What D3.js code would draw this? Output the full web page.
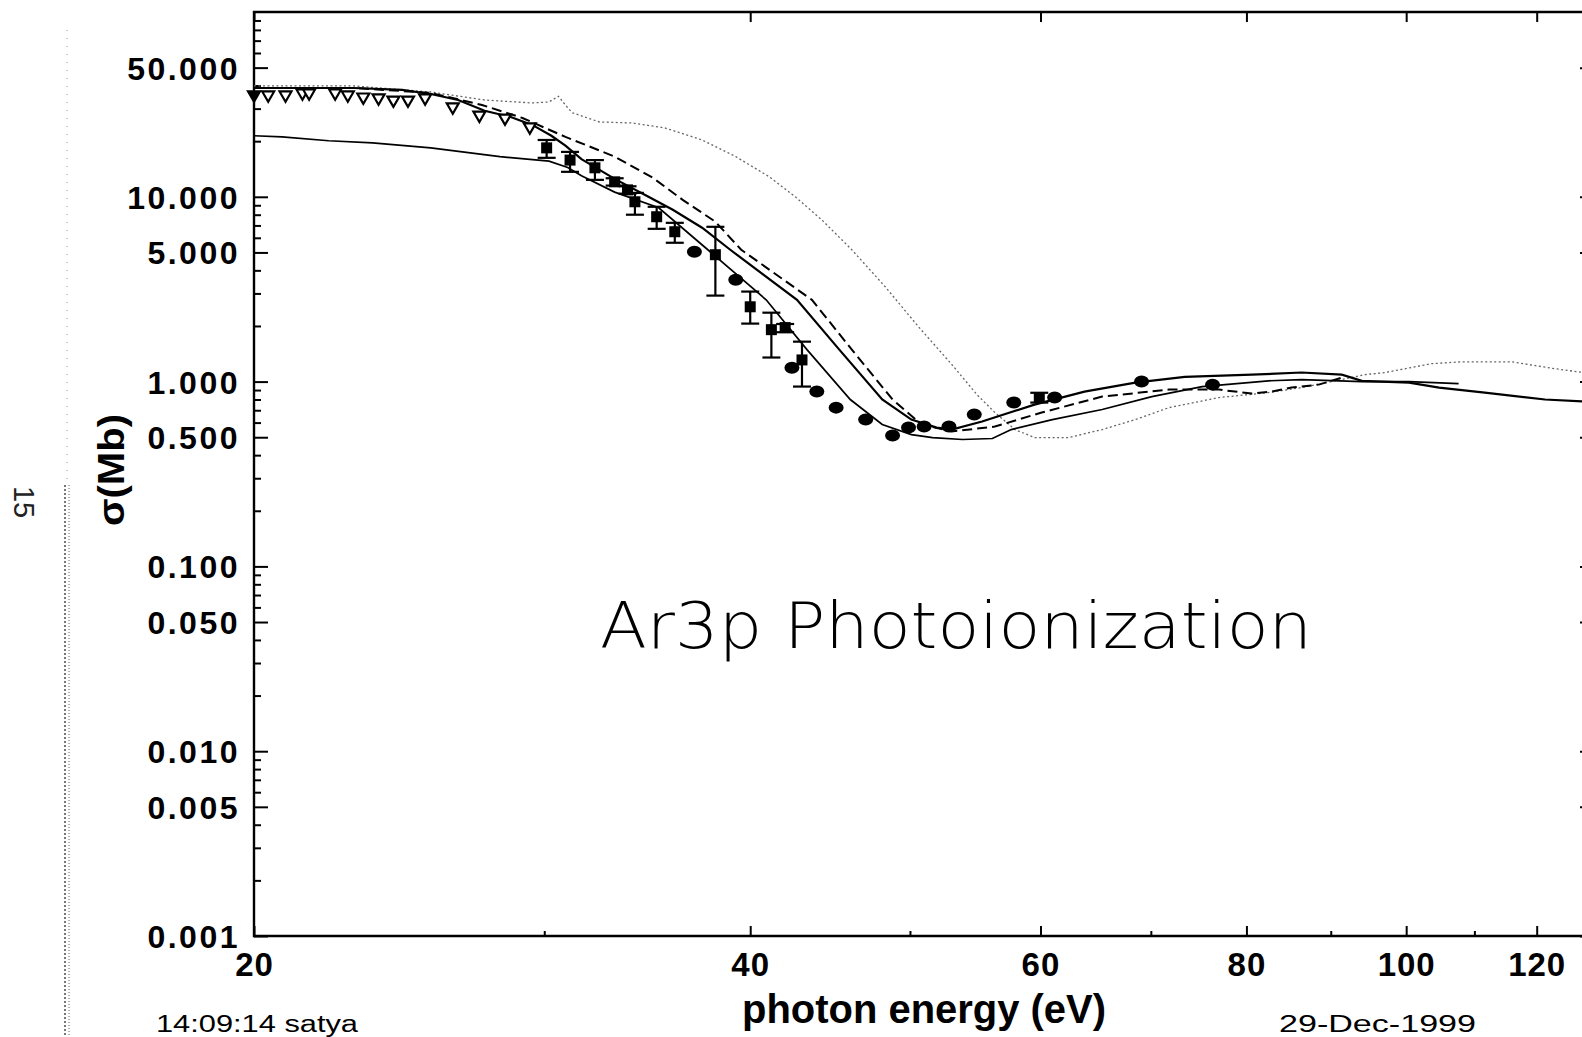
<!DOCTYPE html>
<html><head><meta charset="utf-8">
<script src="https://cdn.jsdelivr.net/npm/d3@7"></script>
<style>html,body{margin:0;padding:0;background:#fff;overflow:hidden}</style>
</head><body>
<svg id="chart" width="1582" height="1037" xmlns="http://www.w3.org/2000/svg"></svg>
<script>
// ---------------- data (photon energy in eV, cross section in Mb) ----------------
const yMajorTicks = [50, 10, 5, 1, 0.5, 0.1, 0.05, 0.01, 0.005, 0.001];
const yTickLabels = ["50.000","10.000","5.000","1.000","0.500","0.100","0.050","0.010","0.005","0.001"];
const xMajorTicks = [20, 40, 60, 80, 100, 120];
const xTickLabels = ["20","40","60","80","100","120"];
const xMinorTicks = [30, 50, 70, 90, 110];

// open triangles (measurements)
const triE     = [20.0,20.4,20.9,21.4,21.6,22.4,22.8,23.3,23.8,24.3,24.8,25.4,26.4,27.4,28.4,29.4];
const triSigma = [35.6,35.6,35.6,36.5,36.5,36.5,35.6,34.7,34.3,33.4,33.4,34.3,30.7,27.7,26.7,23.9];

// filled squares with error bars
const sqE     = [30.1,31.1,32.2,33.1,33.7,34.05,35.1,36.0,38.1,40.0,41.2,42.0,43.0,59.9];
const sqSigma = [18.4,15.8,14.35,12.05,10.9,9.4,7.8,6.47,4.86,2.54,1.91,1.96,1.31,0.82];
const sqLo    = [16.25,13.65,12.35,11.5,10.4,8.0,6.71,5.64,2.92,2.06,1.35,1.85,0.94,0.77];
const sqHi    = [20.3,17.5,15.8,12.6,11.4,10.5,8.83,7.23,6.88,3.07,2.36,2.05,1.645,0.87];

// filled circles
const cirE     = [37.0,39.2,42.4,43.9,45.1,47.0,48.8,49.9,51.0,52.8,54.7,57.8,61.2,69.1,76.3];
const cirSigma = [5.04,3.56,1.19,0.883,0.723,0.623,0.511,0.564,0.571,0.571,0.663,0.770,0.82,1.0,0.963];

// theory curves  [E, sigma]
const curveA = [[20.0,21.4],[20.8,21.1],[22.2,20.1],[23.6,19.6],[25.6,18.4],[28.2,16.5],[30.2,15.6],[31.0,14.4],[31.6,13.0],[33.1,10.6],[35.2,8.72],[37.7,5.17],[40.9,2.77],[43.3,1.49],[46.0,0.80],[48.1,0.586],[50.1,0.517],[51.6,0.498],[53.8,0.486],[56.1,0.492],[57.6,0.55],[61.0,0.623],[65.4,0.706],[70.1,0.83],[75.2,0.94],[82.5,1.01],[86.4,1.025],[94.0,1.0],[100.4,1.0],[107.6,0.975]];
const curveB = [[20,38.8],[23,38.8],[24.6,37.9],[25.6,36.0],[26.6,33.4],[27.6,29.2],[28.6,27.1],[29.5,24.5],[30.3,21.4],[30.9,18.9],[31.6,16.0],[33.1,12.5],[34.7,10.0],[35.9,8.51],[37.4,6.8],[38.9,5.17],[42.7,2.77],[45.3,1.49],[48.1,0.80],[50.1,0.623],[51.9,0.564],[53.0,0.55],[55.3,0.608],[59.5,0.751],[63.8,0.883],[68.5,0.988],[73.4,1.06],[80.6,1.09],[86.4,1.12],[91.4,1.09],[94.0,1.01],[100.4,0.988],[104.7,0.928],[111.6,0.872],[121.4,0.80],[130,0.775]];
const curveC = [[20,38.8],[23,38.8],[25.6,36.5],[27.5,31.4],[29.1,26.7],[30.9,21.1],[33.1,16.5],[34.9,12.7],[36.4,9.63],[38.1,7.33],[39.5,5.17],[43.6,2.77],[46.1,1.49],[48.8,0.80],[50.8,0.586],[53.0,0.537],[56.3,0.571],[60.1,0.68],[65.4,0.83],[71.8,0.905],[77.0,0.905],[80.6,0.861],[82.9,0.883],[85.2,0.928],[88.5,0.963],[91.4,1.05]];
const curveD = [[20,39.8],[23,39.8],[25.6,36.9],[27.6,33.4],[29.5,32.2],[30.2,32.6],[30.6,35.0],[31.0,30.3],[31.2,28.5],[32.4,25.4],[33.9,25.1],[35.5,23.6],[37.4,20.3],[39.2,16.5],[41.1,12.8],[42.6,10.0],[44.2,7.51],[46.1,5.17],[48.3,3.26],[50.6,1.98],[53.0,1.24],[54.9,0.851],[56.3,0.68],[57.9,0.55],[59.5,0.498],[62.4,0.498],[65.4,0.55],[68.5,0.623],[71.8,0.723],[77.0,0.82],[82.5,0.872],[86.4,0.928],[90.1,1.0],[94.4,1.09],[97.1,1.12],[103.6,1.25],[108.1,1.28],[115.9,1.28],[122.6,1.18],[130,1.1]];

const titleText = "Ar3p Photoionization";
const xTitle = "photon energy (eV)";
const yTitle = "σ(Mb)";
const pageNumber = "15";
const stampLeft = "14:09:14 satya";
const stampRight = "29-Dec-1999";

// ---------------- drawing ----------------
const svg = d3.select("#chart");
svg.append("rect").attr("width",1582).attr("height",1037).attr("fill","#fff");

const x = d3.scaleLog().domain([20,130]).range([254,1594]);
const y = d3.scaleLog().domain([0.001,100]).range([936,12]);
const X0 = x.range()[0], X1 = x.range()[1], Y0 = y.range()[0], Y1 = y.range()[1];

const tickFont = "'Liberation Sans Narrow','Liberation Sans',Arial,sans-serif";

// minor y ticks
const yMinor = [];
for (let e = -3; e <= 1; e++) for (let m = 2; m <= 9; m++) {
  const v = m * Math.pow(10, e);
  if (v <= 100 && m !== 5) yMinor.push(v);
}
const yMajorAll = yMajorTicks;

// left axis (ticks inward)
const gL = svg.append("g").attr("transform",`translate(${X0},0)`);
gL.call(d3.axisLeft(y).tickValues(yMinor).tickSize(-7).tickFormat(""));
gL.call(g=>g.select(".domain").remove());
const gL2 = svg.append("g").attr("transform",`translate(${X0},0)`);
gL2.call(d3.axisLeft(y).tickValues(yMajorAll).tickSize(-14).tickPadding(14)
   .tickFormat((d,i)=>yTickLabels[i]));
gL2.call(g=>g.select(".domain").remove());
gL2.selectAll("text").attr("font-family",tickFont).attr("font-weight","bold")
   .attr("font-size",32).attr("letter-spacing","2.5px").attr("fill","#000").attr("dy","0.36em");

// right axis (ticks inward)
const gR = svg.append("g").attr("transform",`translate(${X1},0)`);
gR.call(d3.axisLeft(y).tickValues(yMinor).tickSize(7).tickFormat(""));
gR.call(d3.axisLeft(y).tickValues(yMajorAll).tickSize(14).tickFormat(""));
gR.selectAll(".domain").remove();

// bottom axis
const gB = svg.append("g").attr("transform",`translate(0,${Y0})`);
gB.call(d3.axisBottom(x).tickValues(xMinorTicks).tickSize(-5).tickFormat(""));
gB.call(g=>g.select(".domain").remove());
const gB2 = svg.append("g").attr("transform",`translate(0,${Y0})`);
gB2.call(d3.axisBottom(x).tickValues(xMajorTicks).tickSize(-10).tickPadding(17)
   .tickFormat((d,i)=>xTickLabels[i]));
gB2.call(g=>g.select(".domain").remove());
gB2.selectAll("text").attr("font-family",tickFont).attr("font-weight","bold")
   .attr("font-size",33).attr("fill","#000").attr("letter-spacing","1px");

// top axis
const gT = svg.append("g").attr("transform",`translate(0,${Y1})`);
gT.call(d3.axisTop(x).tickValues(xMinorTicks).tickSize(-5).tickFormat(""));
gT.call(d3.axisTop(x).tickValues(xMajorTicks).tickSize(-10).tickFormat(""));
gT.selectAll(".domain").remove();

svg.selectAll(".tick line").attr("stroke","#000").attr("stroke-width",2);

// frame
svg.append("path")
  .attr("d",`M${X0},${Y1}V${Y0}H${X1}V${Y1}Z`)
  .attr("fill","none").attr("stroke","#000").attr("stroke-width",2.4);

// curves
const line = d3.line().x(d=>x(d[0])).y(d=>y(d[1]));
const curves = svg.append("g").attr("fill","none");
curves.append("path").datum(curveD).attr("d",line)
  .attr("stroke","#666").attr("stroke-width",1.3).attr("stroke-dasharray","2,2.5");
curves.append("path").datum(curveC).attr("d",line)
  .attr("stroke","#000").attr("stroke-width",2).attr("stroke-dasharray","10,5");
curves.append("path").datum(curveB).attr("d",line)
  .attr("stroke","#000").attr("stroke-width",2.2);
curves.append("path").datum(curveA).attr("d",line)
  .attr("stroke","#000").attr("stroke-width",1.7);

// error bars for squares
const eb = svg.append("g").attr("stroke","#000").attr("stroke-width",2.2);
sqE.forEach((e,i)=>{
  const cx = x(e);
  eb.append("line").attr("x1",cx).attr("x2",cx).attr("y1",y(sqLo[i])).attr("y2",y(sqHi[i]));
  eb.append("line").attr("x1",cx-9).attr("x2",cx+9).attr("y1",y(sqLo[i])).attr("y2",y(sqLo[i]));
  eb.append("line").attr("x1",cx-9).attr("x2",cx+9).attr("y1",y(sqHi[i])).attr("y2",y(sqHi[i]));
});

// squares
svg.append("g").selectAll("rect").data(sqE).join("rect")
  .attr("x",(d)=>x(d)-5.5).attr("y",(d,i)=>y(sqSigma[i])-5.5)
  .attr("width",11).attr("height",11).attr("fill","#000");

// circles
svg.append("g").selectAll("ellipse").data(cirE).join("ellipse")
  .attr("cx",d=>x(d)).attr("cy",(d,i)=>y(cirSigma[i]))
  .attr("rx",7.5).attr("ry",6).attr("fill","#000");

// triangles (pointing down)
const tri = d3.symbol().type(d3.symbolTriangle).size(62);
svg.append("g").selectAll("path").data(triE).join("path")
  .attr("d",tri)
  .attr("transform",(d,i)=>`translate(${x(d)},${y(triSigma[i])}) rotate(180)`)
  .attr("fill",(d,i)=>i===0?"#000":"#fff").attr("stroke","#000").attr("stroke-width",2.2);

// title inside plot
svg.append("text").attr("x",600).attr("y",648).text(titleText)
  .attr("font-family","'DejaVu Sans','Open Sans',sans-serif").attr("font-weight",200)
  .attr("font-size",64).attr("textLength",712).attr("lengthAdjust","spacingAndGlyphs")
  .attr("fill","#000");

// axis titles
svg.append("text").attr("x",924).attr("y",1023).attr("text-anchor","middle").text(xTitle)
  .attr("font-family",tickFont).attr("font-weight","bold").attr("font-size",40)
  .attr("textLength",364).attr("lengthAdjust","spacingAndGlyphs").attr("fill","#000");
svg.append("text").attr("transform","translate(124,470) rotate(-90)").attr("text-anchor","middle")
  .text(yTitle).attr("font-family",tickFont).attr("font-weight","bold").attr("font-size",36)
  .attr("textLength",112).attr("lengthAdjust","spacingAndGlyphs").attr("fill","#000");

// page furniture
svg.append("text").attr("transform","translate(14,502) rotate(90)").attr("text-anchor","middle")
  .text(pageNumber).attr("font-family","'Liberation Sans',Arial,sans-serif").attr("font-size",29).attr("fill","#222");
svg.append("text").attr("x",156).attr("y",1032).text(stampLeft)
  .attr("font-family","'Liberation Sans',Arial,sans-serif").attr("font-size",23).attr("textLength",202)
  .attr("lengthAdjust","spacingAndGlyphs").attr("fill","#000");
svg.append("text").attr("x",1279).attr("y",1032).text(stampRight)
  .attr("font-family","'Liberation Sans',Arial,sans-serif").attr("font-size",23).attr("textLength",197)
  .attr("lengthAdjust","spacingAndGlyphs").attr("fill","#000");

// scanner edge artefact on the left margin
svg.append("line").attr("x1",67).attr("x2",67).attr("y1",30).attr("y2",485)
  .attr("stroke","#bbb").attr("stroke-width",1.5).attr("stroke-dasharray","1,7");
svg.append("line").attr("x1",65).attr("x2",65).attr("y1",485).attr("y2",1037)
  .attr("stroke","#777").attr("stroke-width",2).attr("stroke-dasharray","2,2");
svg.append("line").attr("x1",69).attr("x2",69).attr("y1",485).attr("y2",1037)
  .attr("stroke","#999").attr("stroke-width",1.5).attr("stroke-dasharray","1,2");
</script>
</body></html>
